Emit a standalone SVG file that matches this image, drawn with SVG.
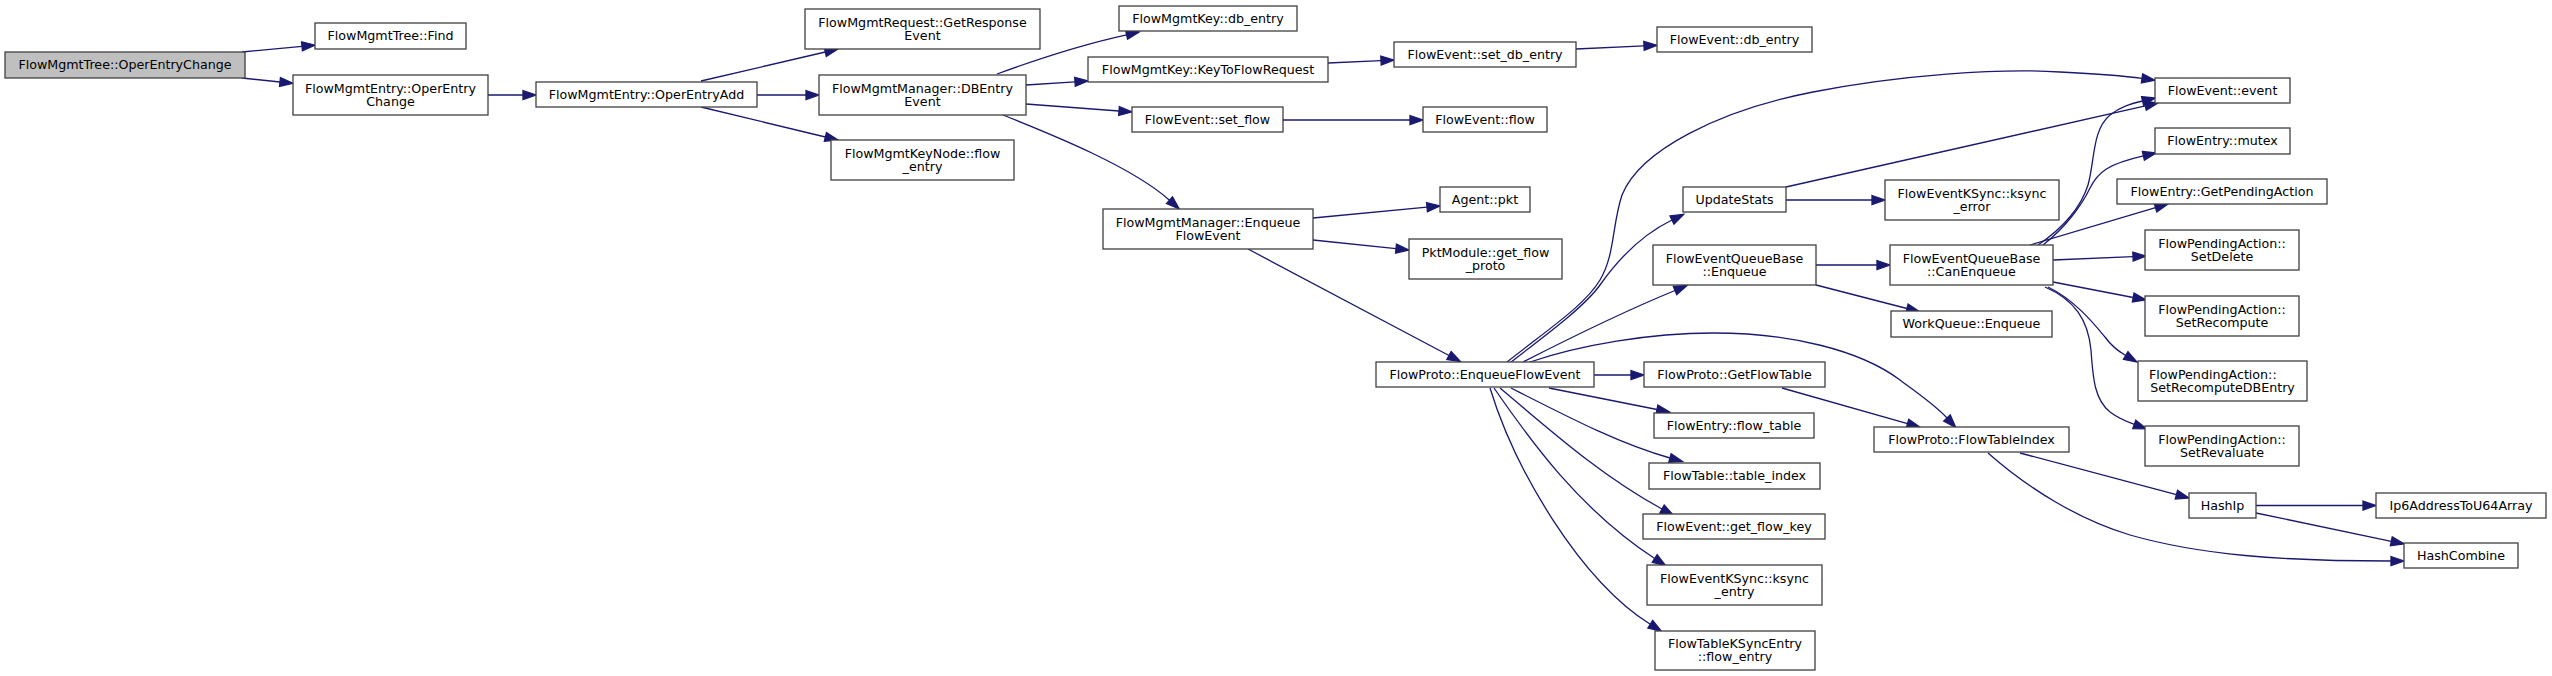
<svg xmlns="http://www.w3.org/2000/svg" width="2552" height="676" viewBox="0 0 2552 676">
<style>
.node rect{fill:#ffffff;stroke:#404040;stroke-width:1.3}
.root rect{fill:#bfbfbf}
text{font-family:"DejaVu Sans","Liberation Sans",sans-serif;font-size:12.67px;fill:#000;text-anchor:middle}
text.l{text-anchor:start}
.edges path{fill:none;stroke:#191970;stroke-width:1.3;marker-end:url(#arr)}
</style>
<defs>
<marker id="arr" markerUnits="userSpaceOnUse" markerWidth="13" markerHeight="9" refX="0" refY="4.5" orient="auto" viewBox="0 0 13 9" overflow="visible">
<path d="M0,0 L13,4.5 L0,9 z" fill="#191970" stroke="#191970" stroke-width="1.3"/>
</marker>
</defs>
<rect width="2552" height="676" fill="#ffffff"/>
<g class="edges" id="connectors">
<path d="M242,52 L302,46.3"/>
<path d="M242,78 L280,82"/>
<path d="M488,95 L523,95"/>
<path d="M701,81 L825.3,52"/>
<path d="M757,95 L806,95"/>
<path d="M701,107 L825.4,137"/>
<path d="M997,74 C1035,60 1080,45 1126.6,34.8"/>
<path d="M1026,85 L1075,81.8"/>
<path d="M1026,104 L1119,111"/>
<path d="M1003,115 C1045,132 1130,165 1169.5,200.2"/>
<path d="M1328,63 L1381,60.6"/>
<path d="M1576,49 L1644,45.9"/>
<path d="M1283,120 L1410,120"/>
<path d="M1313,218 L1427,207.2"/>
<path d="M1313,240 L1396,248.6"/>
<path d="M1248,249 L1449,355.5"/>
<path d="M1507,362 C1550,328 1585,305 1600,280 C1615,255 1612,225 1622,195 C1640,150 1720,110 1813,92 C1900,75 2000,68 2060,72 C2100,74 2125,76 2142,78.4"/>
<path d="M1511,362 C1550,332 1585,306 1600,285 C1612,268 1635,238 1672,220"/>
<path d="M1523,362 C1570,338 1620,313 1675,290.5"/>
<path d="M1530,362 C1580,345 1650,333 1713,333 C1790,333 1860,350 1900,380 C1920,395 1935,405 1947,418"/>
<path d="M1594,375 L1631,375"/>
<path d="M1549,388 L1657,409.5"/>
<path d="M1511,388 C1570,418 1620,444 1670,458"/>
<path d="M1500,388 C1550,430 1600,475 1662,509"/>
<path d="M1494,388 C1530,440 1580,510 1654.7,558.5"/>
<path d="M1490,388 C1515,470 1580,580 1650.3,624.3"/>
<path d="M1786,187 L2145.3,105.9"/>
<path d="M1786,200 L1872,200"/>
<path d="M1816,265 L1877,265"/>
<path d="M1816,285 L1907,308.5"/>
<path d="M2038,245 C2060,230 2080,210 2088,185 C2095,160 2092,130 2110,115 C2120,107 2130,104 2142.6,101"/>
<path d="M2043,245 C2065,228 2082,205 2090,188 C2098,172 2108,164 2143.4,155.9"/>
<path d="M2030,245 L2155.5,207.7"/>
<path d="M2053,260 L2133,256.6"/>
<path d="M2053,282 L2133.2,297.5"/>
<path d="M2048,287 C2075,300 2095,325 2105,337 C2110,344 2118,351 2125.7,355.5"/>
<path d="M2045,287 C2075,300 2088,320 2091,350 C2093,380 2095,400 2110,412 C2118,418 2125,421 2134.3,424.4"/>
<path d="M1782,388 L1907.5,423.6"/>
<path d="M2020,453 L2176.4,494.7"/>
<path d="M1988,453 C2030,490 2080,520 2130,535 C2200,555 2280,561 2391,561"/>
<path d="M2256,505.5 L2363,505.5"/>
<path d="M2256,513 L2391.3,541.3"/>
</g>
<g id="root" class="node root"><rect x="5" y="52" width="240" height="26"/><text x="125" y="69.3">FlowMgmtTree::OperEntryChange</text></g>
<g id="find" class="node"><rect x="315" y="23" width="151" height="26"/><text x="390.5" y="40.3">FlowMgmtTree::Find</text></g>
<g id="foec" class="node"><rect x="293" y="75" width="195" height="40"/><text x="390.5" y="92.5">FlowMgmtEntry::OperEntry</text><text x="390.5" y="105.8">Change</text></g>
<g id="oea" class="node"><rect x="536" y="82" width="221" height="25"/><text x="646.5" y="99">FlowMgmtEntry::OperEntryAdd</text></g>
<g id="gre" class="node"><rect x="805" y="9" width="235" height="40"/><text x="922.5" y="26.5">FlowMgmtRequest::GetResponse</text><text x="922.5" y="39.8">Event</text></g>
<g id="dbe" class="node"><rect x="819" y="75" width="207" height="40"/><text x="922.5" y="92.5">FlowMgmtManager::DBEntry</text><text x="922.5" y="105.8">Event</text></g>
<g id="kn" class="node"><rect x="831" y="140" width="183" height="40"/><text x="922.5" y="157.5">FlowMgmtKeyNode::flow</text><text x="922.5" y="170.8">_entry</text></g>
<g id="kdb" class="node"><rect x="1119" y="6" width="178" height="25"/><text x="1208" y="23">FlowMgmtKey::db_entry</text></g>
<g id="ktfr" class="node"><rect x="1088" y="57" width="240" height="25"/><text x="1208" y="74">FlowMgmtKey::KeyToFlowRequest</text></g>
<g id="sf" class="node"><rect x="1132" y="107" width="151" height="25"/><text x="1207.5" y="124">FlowEvent::set_flow</text></g>
<g id="fmmq" class="node"><rect x="1103" y="209" width="210" height="40"/><text x="1208" y="226.5">FlowMgmtManager::Enqueue</text><text x="1208" y="239.8">FlowEvent</text></g>
<g id="sdb" class="node"><rect x="1394" y="42" width="182" height="25"/><text x="1485" y="59">FlowEvent::set_db_entry</text></g>
<g id="edb" class="node"><rect x="1657" y="27" width="155" height="25"/><text x="1734.5" y="44">FlowEvent::db_entry</text></g>
<g id="flow" class="node"><rect x="1423" y="107" width="124" height="25"/><text x="1485" y="124">FlowEvent::flow</text></g>
<g id="pkt" class="node"><rect x="1440" y="187" width="90" height="25"/><text x="1485" y="204">Agent::pkt</text></g>
<g id="gfp" class="node"><rect x="1409" y="239" width="153" height="40"/><text x="1485.5" y="256.5">PktModule::get_flow</text><text x="1485.5" y="269.8">_proto</text></g>
<g id="fpe" class="node"><rect x="1376" y="362" width="218" height="25"/><text x="1485" y="379">FlowProto::EnqueueFlowEvent</text></g>
<g id="us" class="node"><rect x="1683" y="187" width="103" height="25"/><text x="1734.5" y="204">UpdateStats</text></g>
<g id="feqe" class="node"><rect x="1653" y="245" width="163" height="40"/><text x="1734.5" y="262.5">FlowEventQueueBase</text><text x="1734.5" y="275.8">::Enqueue</text></g>
<g id="gft" class="node"><rect x="1644" y="362" width="181" height="25"/><text x="1734.5" y="379">FlowProto::GetFlowTable</text></g>
<g id="ft" class="node"><rect x="1654" y="413" width="160" height="25"/><text x="1734" y="430">FlowEntry::flow_table</text></g>
<g id="ti" class="node"><rect x="1649" y="463" width="171" height="26"/><text x="1734.5" y="480.3">FlowTable::table_index</text></g>
<g id="gfk" class="node"><rect x="1643" y="514" width="182" height="25"/><text x="1734" y="531">FlowEvent::get_flow_key</text></g>
<g id="kse" class="node"><rect x="1647" y="565" width="175" height="40"/><text x="1734.5" y="582.5">FlowEventKSync::ksync</text><text x="1734.5" y="595.8">_entry</text></g>
<g id="tkfe" class="node"><rect x="1655" y="631" width="160" height="39"/><text x="1735" y="648">FlowTableKSyncEntry</text><text x="1735" y="661.3">::flow_entry</text></g>
<g id="kerr" class="node"><rect x="1885" y="180" width="174" height="40"/><text x="1972" y="197.5">FlowEventKSync::ksync</text><text x="1972" y="210.8">_error</text></g>
<g id="ce" class="node"><rect x="1890" y="245" width="163" height="40"/><text x="1971.5" y="262.5">FlowEventQueueBase</text><text x="1971.5" y="275.8">::CanEnqueue</text></g>
<g id="wq" class="node"><rect x="1891" y="311" width="161" height="26"/><text x="1971.5" y="328.3">WorkQueue::Enqueue</text></g>
<g id="fti" class="node"><rect x="1874" y="427" width="195" height="25"/><text x="1971.5" y="444">FlowProto::FlowTableIndex</text></g>
<g id="ev" class="node"><rect x="2155" y="78" width="135" height="25"/><text x="2222.5" y="95">FlowEvent::event</text></g>
<g id="mx" class="node"><rect x="2155" y="128" width="135" height="26"/><text x="2222.5" y="145.3">FlowEntry::mutex</text></g>
<g id="gpa" class="node"><rect x="2117" y="179" width="210" height="25"/><text x="2222" y="196">FlowEntry::GetPendingAction</text></g>
<g id="sd" class="node"><rect x="2145" y="230" width="154" height="40"/><text x="2222" y="247.5">FlowPendingAction::</text><text x="2222" y="260.8">SetDelete</text></g>
<g id="sr" class="node"><rect x="2145" y="296" width="154" height="40"/><text x="2222" y="313.5">FlowPendingAction::</text><text x="2222" y="326.8">SetRecompute</text></g>
<g id="srdb" class="node"><rect x="2138" y="361" width="169" height="40"/><text class="l" x="2149" y="378.5">FlowPendingAction::</text><text x="2222.5" y="391.8">SetRecomputeDBEntry</text></g>
<g id="srv" class="node"><rect x="2145" y="426" width="154" height="40"/><text x="2222" y="443.5">FlowPendingAction::</text><text x="2222" y="456.8">SetRevaluate</text></g>
<g id="hip" class="node"><rect x="2189" y="493" width="67" height="25"/><text x="2222.5" y="510">HashIp</text></g>
<g id="ip6" class="node"><rect x="2376" y="493" width="170" height="25"/><text x="2461" y="510">Ip6AddressToU64Array</text></g>
<g id="hc" class="node"><rect x="2404" y="543" width="114" height="25"/><text x="2461" y="560">HashCombine</text></g>
</svg>
